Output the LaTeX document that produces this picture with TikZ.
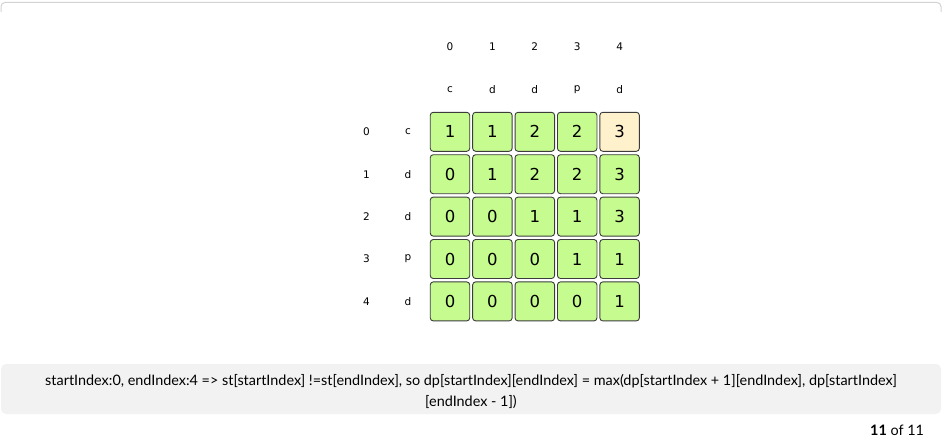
\documentclass[tikz,border=0pt]{standalone}
\usepackage{fontspec}
\setmainfont{DejaVu Sans}
\newfontfamily\latofont{Lato}
\usepackage{tikz}
\definecolor{cellgreen}{RGB}{198,252,143}
\definecolor{cellyellow}{RGB}{255,241,204}
\definecolor{celledge}{RGB}{60,60,60}
\definecolor{notegray}{RGB}{242,242,242}
\definecolor{framegray}{RGB}{210,210,210}

\begin{document}
\begin{tikzpicture}[x=1pt,y=-1pt,line width=0.9pt]
            \tikzstyle{every node}=[font=\fontsize{10.5}{12}\selectfont,inner sep=0pt]
            \tikzstyle{cell}=[draw=celledge,fill=cellgreen,rounded corners=3pt,
                minimum width=39.5pt,minimum height=39pt,font=\fontsize{16.5}{18}\selectfont]
            \tikzstyle{cellhl}=[cell,fill=cellyellow]
            \tikzstyle{note}=[font=\latofont\fontsize{14.4}{16}\selectfont]
            \useasboundingbox (0,0) rectangle (942,444);
            % frame and note box
            \draw[framegray,line width=1pt,rounded corners=4pt] (1,12) -- (1,2.5) -- (941,2.5) -- (941,12);
            \fill[notegray,rounded corners=5pt] (1,364) rectangle (941,414);
            % column headers
            \node (ci0) at (450, 47) {0};
            \node (ci1) at (492.4, 47) {1};
            \node (ci2) at (534.8, 47) {2};
            \node (ci3) at (577.2, 47) {3};
            \node (ci4) at (619.6, 47) {4};
            \node (cc0) at (450, 90) {c};
            \node (cc1) at (492.4, 90) {d};
            \node (cc2) at (534.8, 90) {d};
            \node (cc3) at (577.2, 90) {p};
            \node (cc4) at (619.6, 90) {d};
            % row headers
            \node (ri0) at (366.5, 131.8) {0};
            \node (ri1) at (366.5, 174.2) {1};
            \node (ri2) at (366.5, 216.6) {2};
            \node (ri3) at (366.5, 259) {3};
            \node (ri4) at (366.5, 301.4) {4};
            \node (rc0) at (408, 131.8) {c};
            \node (rc1) at (408, 174.2) {d};
            \node (rc2) at (408, 216.6) {d};
            \node (rc3) at (408, 259) {p};
            \node (rc4) at (408, 301.4) {d};
            % dp table
            \node[cell] (d00) at (450, 131.8) {1};
            \node[cell] (d01) at (492.4, 131.8) {1};
            \node[cell] (d02) at (534.8, 131.8) {2};
            \node[cell] (d03) at (577.2, 131.8) {2};
            \node[cellhl] (d04) at (619.6, 131.8) {3};
            \node[cell] (d10) at (450, 174.2) {0};
            \node[cell] (d11) at (492.4, 174.2) {1};
            \node[cell] (d12) at (534.8, 174.2) {2};
            \node[cell] (d13) at (577.2, 174.2) {2};
            \node[cell] (d14) at (619.6, 174.2) {3};
            \node[cell] (d20) at (450, 216.6) {0};
            \node[cell] (d21) at (492.4, 216.6) {0};
            \node[cell] (d22) at (534.8, 216.6) {1};
            \node[cell] (d23) at (577.2, 216.6) {1};
            \node[cell] (d24) at (619.6, 216.6) {3};
            \node[cell] (d30) at (450, 259) {0};
            \node[cell] (d31) at (492.4, 259) {0};
            \node[cell] (d32) at (534.8, 259) {0};
            \node[cell] (d33) at (577.2, 259) {1};
            \node[cell] (d34) at (619.6, 259) {1};
            \node[cell] (d40) at (450, 301.4) {0};
            \node[cell] (d41) at (492.4, 301.4) {0};
            \node[cell] (d42) at (534.8, 301.4) {0};
            \node[cell] (d43) at (577.2, 301.4) {0};
            \node[cell] (d44) at (619.6, 301.4) {1};
            % explanation
            \node[note] (n1) at (471, 381.5) {startIndex:0, endIndex:4 => st[startIndex] !=st[endIndex], so dp[startIndex][endIndex] = max(dp[startIndex + 1][endIndex], dp[startIndex]};
            \node[note] (n2) at (471, 401.5) {[endIndex - 1])};
            \node[note,anchor=east] (pg) at (924.5, 430.5) {\textbf{11} of 11};
        \end{tikzpicture}
\end{document}
